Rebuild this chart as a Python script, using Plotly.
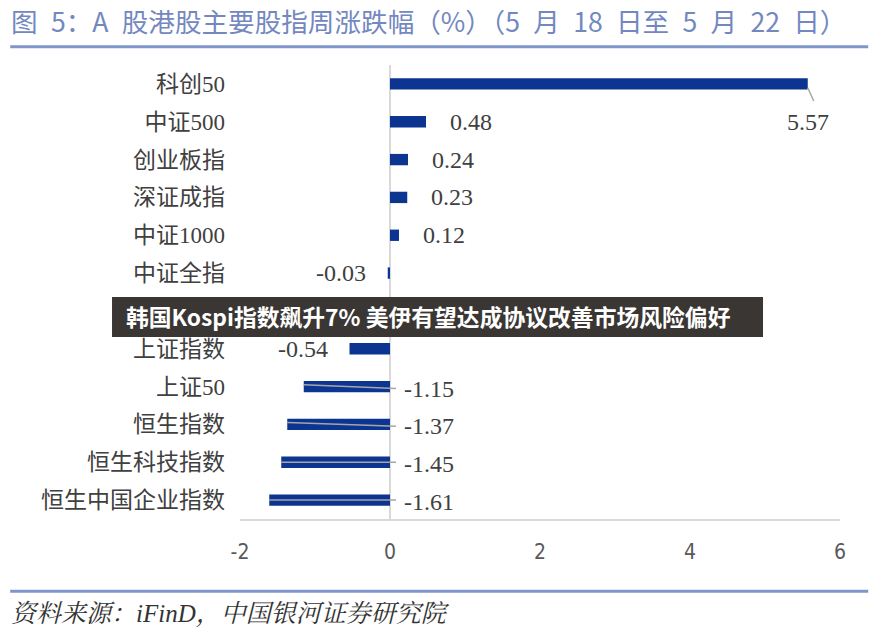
import plotly.graph_objects as go

categories = ["科创50", "中证500", "创业板指", "深证成指", "中证1000", "中证全指",
              "沪深300", "上证指数", "上证50", "恒生指数", "恒生科技指数", "恒生中国企业指数"]
values = [5.57, 0.48, 0.24, 0.23, 0.12, -0.03, -0.20, -0.54, -1.15, -1.37, -1.45, -1.61]
hidden_rows = ["沪深300"]  # row covered by the news banner in the reference
x_ticks = [-2, 0, 2, 4, 6]

BAR = "#0B3591"
TXT = "#404040"
RULE = "#7F96C8"
NUMFONT = "Liberation Serif, Noto Sans CJK SC"

pos = list(range(len(categories)))

fig = go.Figure()
fig.add_trace(go.Bar(
    x=values, y=pos, orientation="h", width=0.3,
    marker=dict(color=BAR, line=dict(width=0)),
    hoverinfo="skip", showlegend=False,
))

# leader lines (gray) for labels placed away from bar ends
for i, v in enumerate(values):
    if v <= -1:
        fig.add_trace(go.Scatter(
            x=[v, 0.08], y=[i - 0.05, i + 0.05] if v > -1.4 else [i, i],
            mode="lines", line=dict(color="#A6A6A6", width=1.5),
            hoverinfo="skip", showlegend=False))
    elif v > 5:
        fig.add_trace(go.Scatter(
            x=[v, v + 0.08], y=[i + 0.1, i + 0.45],
            mode="lines", line=dict(color="#A6A6A6", width=1.5),
            hoverinfo="skip", showlegend=False))

annotations = []
for i, (c, v) in enumerate(zip(categories, values)):
    if c in hidden_rows:
        continue
    t = f"{v:.2f}"
    f = dict(size=24, color=TXT, family=NUMFONT)
    if v > 5:
        annotations.append(dict(x=v, y=i + 1, text=t, showarrow=False, xanchor="center",
                                yanchor="middle", font=f))
    elif v >= 0:
        annotations.append(dict(x=v, y=i, text=t, showarrow=False, xanchor="left", xshift=22,
                                yanchor="middle", font=f))
    elif v > -1:
        annotations.append(dict(x=v, y=i, text=t, showarrow=False, xanchor="right", xshift=-20,
                                yanchor="middle", font=f))
    else:
        annotations.append(dict(x=0, y=i, text=t, showarrow=False, xanchor="left", xshift=12,
                                yshift=-2, yanchor="middle", font=f))

SP = "\u2002"
title = "图 5：A 股港股主要股指周涨跌幅（%）（5 月 18 日至 5 月 22 日）".replace(" ", SP)
annotations.append(dict(xref="paper", yref="paper", x=-0.385, y=1.097, xanchor="left",
                        yanchor="middle", showarrow=False, text=title,
                        font=dict(size=26.6, color="#7388C0", family="Noto Sans CJK SC")))
annotations.append(dict(xref="paper", yref="paper", x=-0.385, y=-0.209, xanchor="left",
                        yanchor="middle", showarrow=False,
                        text="<i>资料来源：iFinD，中国银河证券研究院</i>",
                        font=dict(size=25, color="#333333",
                                  family="Liberation Serif, Noto Serif CJK SC, Noto Sans CJK SC")))
annotations.append(dict(xref="paper", yref="paper", x=-0.193, y=0.445, xanchor="left",
                        yanchor="middle", showarrow=False,
                        text="<b>韩国Kospi指数飙升7% 美伊有望达成协议改善市场风险偏好</b>",
                        font=dict(size=22.8, color="#FFFFFF", family="Noto Sans CJK SC")))

shapes = [
    dict(type="line", xref="paper", yref="paper", x0=-0.383, x1=1.047, y0=1.04, y1=1.04,
         line=dict(color=RULE, width=3)),
    dict(type="line", xref="paper", yref="paper", x0=-0.383, x1=1.047, y0=-0.159, y1=-0.159,
         line=dict(color=RULE, width=3)),
    dict(type="rect", xref="paper", yref="paper", x0=-0.2133, x1=0.8717, y0=0.401, y1=0.489,
         fillcolor="#3A3634", line=dict(width=0), layer="above"),
]

fig.update_layout(
    width=877, height=634,
    margin=dict(l=240, r=37, t=65, b=115, autoexpand=False),
    paper_bgcolor="white", plot_bgcolor="white",
    xaxis=dict(range=[-2, 6], tickvals=x_ticks, ticktext=[str(t) for t in x_ticks],
               automargin=False,
               showgrid=False, zeroline=True, zerolinecolor="#D9D9D9", zerolinewidth=2,
               showline=True, linecolor="#D9D9D9", linewidth=2,
               ticks="", ticklabelstandoff=13,
               tickfont=dict(size=21, color="#595959",
                             family="Liberation Sans Narrow, DejaVu Sans Condensed, Arial")),
    yaxis=dict(range=[len(categories) - 0.5, -0.5], tickvals=pos,
               ticktext=["" if c in hidden_rows else c for c in categories],
               automargin=False,
               showgrid=False, zeroline=False, showline=False, ticks="",
               ticklabelstandoff=14,
               tickfont=dict(size=23, color=TXT, family=NUMFONT)),
    annotations=annotations,
    shapes=shapes,
)

fig.write_html("out.html", config={"displayModeBar": False},
               post_script="document.body.style.margin='0';document.body.style.overflow='hidden';")
